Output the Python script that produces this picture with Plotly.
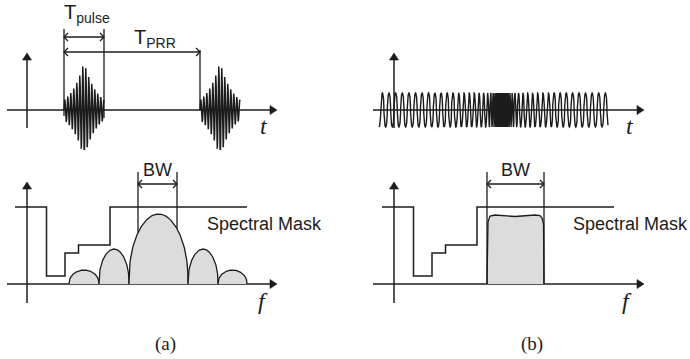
import numpy as np
import plotly.graph_objects as go

W, H = 690, 359

# ---------------- data (schematic values, in each panel's own units) ----------------
# panel (a) time signal: two short pulses
pulse_centres = [57, 193]
pulse_half_width = 20
pulse_peak = 48
pulse_edge = 10
pulse_period = 3.0
t_pulse = [37, 77]
t_prr = [37, 173]

# panel (b) time signal: chirp
chirp_span = [-15, 214]
chirp_centre = 108
chirp_amp = 17
chirp_base_freq = 0.15
chirp_broad_gain = 0.08
chirp_broad_width = 45
chirp_peak_gain = 0.7
chirp_peak_width = 9
chirp_squareness = 0.45

# spectral mask (same in both panels)
mask_edges = [-12, 19.5, 38, 51.5, 83, 220]
mask_levels = [77, 8, 31, 39, 77]

# panel (a) spectrum: sinc-like lobes
lobe_edges = [42, 72, 102, 161, 191, 220]
lobe_heights = [14, 35, 70, 35, 14]
lobe_shape_exp = 0.4
bw_a = [111, 150]

# panel (b) spectrum: flat band
band_x = [93, 94, 96, 101, 121, 141, 146, 148, 149.5, 150]
band_y = [0, 62, 68, 69, 67.5, 69, 68.5, 66, 60, 0]
bw_b = [93, 150]

captions = ["(a)", "(b)"]

# ---------------- drawing ----------------
INK = "#1c1c1c"
FILL = "#dcdcdc"
SANS = "Liberation Sans, Arial, sans-serif"
SERIF = "Liberation Serif, Times New Roman, serif"

fig = go.Figure()


def line(x, y, xa, ya, width=1.5, **kw):
    fig.add_trace(go.Scatter(x=x, y=y, mode="lines", xaxis=xa, yaxis=ya,
                             line=dict(color=INK, width=width),
                             hoverinfo="skip", showlegend=False, **kw))


def head(xs, ys, xa, ya):
    fig.add_trace(go.Scatter(x=xs, y=ys, mode="lines", fill="toself",
                             fillcolor=INK, line=dict(color=INK, width=0.6),
                             xaxis=xa, yaxis=ya, hoverinfo="skip", showlegend=False))


def axes_cross(xa, ya, xlo, xhi, ylo, yhi):
    L, hw = 7, 4.5
    line([xlo, xhi - L + 1], [0, 0], xa, ya)
    line([0, 0], [ylo, yhi - L + 1], xa, ya)
    head([xhi - L, xhi, xhi - L, xhi - L], [hw, 0, -hw, hw], xa, ya)
    head([hw, 0, -hw, hw], [yhi - L, yhi, yhi - L, yhi - L], xa, ya)


def dim_arrow(x0, x1, y, xa, ya, c=4):
    xs = [x0, x1, None, x0 + c, x0, x0 + c, None, x1 - c, x1, x1 - c]
    ys = [y, y, None, y + c, y, y - c, None, y + c, y, y - c]
    line(xs, ys, xa, ya, width=1.3)


def label(text, x, y, xref, yref, size, family=SANS):
    fig.add_annotation(text=text, x=x, y=y, xref=xref, yref=yref, showarrow=False,
                       font=dict(family=family, size=size, color=INK),
                       xanchor="center", yanchor="middle")


# ---- (a) top: pulses ----
axes_cross("x", "y", -20, 250, -18, 57)
tau = pulse_half_width / np.log(pulse_peak / pulse_edge)
for c in pulse_centres:
    x = np.arange(c - pulse_half_width, c + pulse_half_width + 0.001, 0.04)
    env = pulse_peak * np.exp(-np.abs(x - c) / tau)
    y = env * np.sin(2 * np.pi * (x - (c - pulse_half_width)) / pulse_period)
    line(x, y, "x", "y", width=1.5)
line([t_pulse[0], t_pulse[0], None, t_pulse[1], t_pulse[1], None, t_prr[1], t_prr[1]],
     [81, -6, None, 81, -8, None, 60, 0], "x", "y", width=1.3)
dim_arrow(t_pulse[0], t_pulse[1], 73, "x", "y")
dim_arrow(t_prr[0], t_prr[1], 58, "x", "y")
label("T<sub>pulse</sub>", 60, 97, "x", "y", 20)
label("T<sub>PRR</sub>", 128, 72, "x", "y", 20)
label("<i>t</i>", 237, -16, "x", "y", 24, SERIF)

# ---- (a) bottom: lobes + mask ----
axes_cross("x2", "y2", -20, 250, -19, 102)


def lobe_value(xv, i):
    l, r = lobe_edges[i], lobe_edges[i + 1]
    u = (xv - l) / (r - l)
    return lobe_heights[i] * np.clip(np.sin(np.pi * u), 0, None) ** lobe_shape_exp


for i in range(len(lobe_heights)):
    x = np.linspace(lobe_edges[i], lobe_edges[i + 1], 240)
    y = lobe_value(x, i)
    fig.add_trace(go.Scatter(x=x, y=y, mode="lines", fill="toself", fillcolor=FILL,
                             line=dict(color=INK, width=1.3), xaxis="x2", yaxis="y2",
                             hoverinfo="skip", showlegend=False))
line(mask_edges, mask_levels + [mask_levels[-1]], "x2", "y2", width=1.5, line_shape="hv")
main = int(np.argmax(lobe_heights))
line([bw_a[0], bw_a[0], None, bw_a[1], bw_a[1]],
     [112, float(lobe_value(bw_a[0], main)), None, 112, float(lobe_value(bw_a[1], main))],
     "x2", "y2", width=1.3)
dim_arrow(bw_a[0], bw_a[1], 100, "x2", "y2")
label("BW", sum(bw_a) / 2, 114, "x2", "y2", 18)
label("Spectral Mask", 237, 60, "x2", "y2", 18)
label("<i>f</i>", 236, -17, "x2", "y2", 24, SERIF)

# ---- (b) top: chirp ----
axes_cross("x3", "y3", -21, 250, -18, 57)
dx = 0.02
xc = np.arange(chirp_span[0], chirp_span[1], dx)
freq = (chirp_base_freq
        + chirp_broad_gain * np.exp(-((xc - chirp_centre) / chirp_broad_width) ** 2)
        + chirp_peak_gain * np.exp(-((xc - chirp_centre) / chirp_peak_width) ** 2))
phase = np.cumsum(freq) * dx
s = -np.cos(2 * np.pi * phase)
yc = chirp_amp * np.sign(s) * np.abs(s) ** chirp_squareness
line(xc, yc, "x3", "y3", width=1.4)
label("<i>t</i>", 236, -16, "x3", "y3", 24, SERIF)

# ---- (b) bottom: flat band + mask ----
axes_cross("x4", "y4", -21, 250, -19, 102)
fig.add_trace(go.Scatter(x=band_x, y=band_y, mode="lines", fill="toself", fillcolor=FILL,
                         line=dict(color=INK, width=1.3), xaxis="x4", yaxis="y4",
                         hoverinfo="skip", showlegend=False))
line(mask_edges, mask_levels + [mask_levels[-1]], "x4", "y4", width=1.5, line_shape="hv")
line([bw_b[0], bw_b[0], None, bw_b[1], bw_b[1]], [112, 0, None, 112, 0], "x4", "y4", width=1.3)
dim_arrow(bw_b[0], bw_b[1], 100, "x4", "y4")
label("BW", sum(bw_b) / 2, 114, "x4", "y4", 18)
label("Spectral Mask", 236, 60, "x4", "y4", 18)
label("<i>f</i>", 233, -17, "x4", "y4", 24, SERIF)

# captions
for txt, px in zip(captions, [165, 532]):
    fig.add_annotation(text=txt, x=px / W, y=1 - 344 / H, xref="paper", yref="paper",
                       showarrow=False, font=dict(family=SERIF, size=19, color=INK),
                       xanchor="center", yanchor="middle")

hid = dict(visible=False, fixedrange=True)
top_dom = [1 - 150 / H, 1]
bot_dom = [(H - 320) / H, (H - 150) / H]
fig.update_layout(
    width=W, height=H, margin=dict(l=0, r=0, t=0, b=0),
    paper_bgcolor="white", plot_bgcolor="white", showlegend=False,
    xaxis=dict(domain=[0, 0.5], range=[-27, 318], anchor="y", **hid),
    yaxis=dict(domain=top_dom, range=[-40, 110], anchor="x", **hid),
    xaxis2=dict(domain=[0, 0.5], range=[-27, 318], anchor="y2", **hid),
    yaxis2=dict(domain=bot_dom, range=[-36, 134], anchor="x2", **hid),
    xaxis3=dict(domain=[0.5, 1], range=[-49, 296], anchor="y3", **hid),
    yaxis3=dict(domain=top_dom, range=[-40, 110], anchor="x3", **hid),
    xaxis4=dict(domain=[0.5, 1], range=[-49, 296], anchor="y4", **hid),
    yaxis4=dict(domain=bot_dom, range=[-36, 134], anchor="x4", **hid),
)

fig.write_html("out.html")
